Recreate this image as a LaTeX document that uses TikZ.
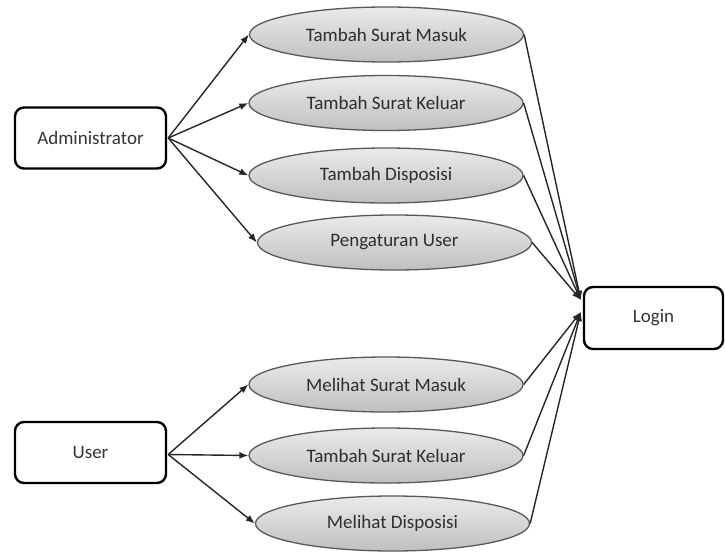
\documentclass[tikz,border=0pt]{standalone}
\usepackage{fontspec}
\setmainfont{Carlito}
\usetikzlibrary{shapes.geometric,arrows.meta}
\begin{document}
\begin{tikzpicture}[x=1pt,y=-1pt,
  actor/.style={draw=black,line width=2.4pt,rounded corners=9pt,fill=white,
    minimum width=151pt,minimum height=61pt,inner sep=0pt,text=black!80,
    font=\fontsize{19}{22}\selectfont},
  usecase/.style={ellipse,draw=black!65,line width=1.3pt,top color=black!8,bottom color=black!25,
    minimum width=274pt,minimum height=55pt,inner sep=0pt,text=black!82,
    font=\fontsize{19}{22}\selectfont},
  conn/.style={line width=1.4pt,draw=black!85,-{Latex[length=9pt,width=7pt]}}
]
\useasboundingbox (0,0) rectangle (725,552);
\node[actor] (admin) at (90.5,138) {Administrator};
\node[actor] (user) at (90.5,452.5) {User};
\node[actor,minimum width=139pt,minimum height=62pt] (login) at (653.5,318) {Login};

\node[usecase] (u1) at (386.5,34.5) {Tambah Surat Masuk};
\node[usecase] (u2) at (386,103) {Tambah Surat Keluar};
\node[usecase] (u3) at (386,175.5) {Tambah Disposisi};
\node[usecase] (u4) at (394.5,242.5) {Pengaturan User};
\node[usecase] (u5) at (386,384.5) {Melihat Surat Masuk};
\node[usecase] (u6) at (386,455.5) {Tambah Surat Keluar};
\node[usecase] (u7) at (392.5,523.5) {Melihat Disposisi};

\foreach \u in {u1,u2,u3,u4}{
  \draw[conn] ([xshift=1pt]admin.east) -- (\u.west);
  \draw[conn] (\u.east) -- ([xshift=-2pt,yshift=18pt]login.west);
}
\foreach \u in {u5,u6,u7}{
  \draw[conn] ([xshift=1pt,yshift=-2pt]user.east) -- (\u.west);
  \draw[conn] (\u.east) -- ([xshift=-2pt,yshift=6pt]login.west);
}
\end{tikzpicture}
\end{document}
